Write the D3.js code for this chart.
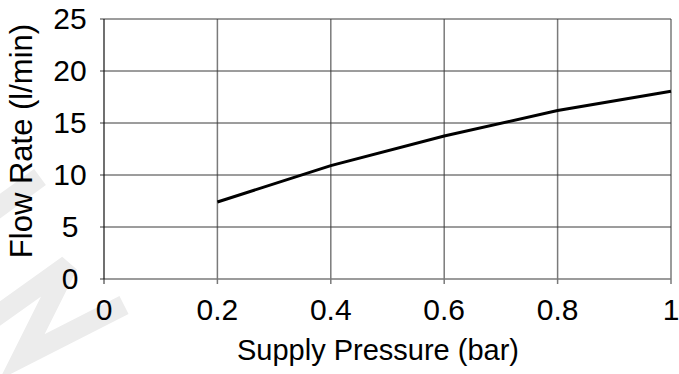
<!DOCTYPE html>
<html>
<head>
<meta charset="utf-8">
<script src="https://cdn.jsdelivr.net/npm/d3@7"></script>
<style>
html,body{margin:0;padding:0;background:#fff;}
svg{display:block;font-family:"Liberation Sans",Arial,sans-serif;}
</style>
</head>
<body>
<svg id="chart" width="679" height="374"></svg>
<script>
const pressure = [0.2, 0.4, 0.6, 0.8, 1.0];
const flowRate = [7.4, 10.9, 13.75, 16.2, 18.05];
const xTicks = [0, 0.2, 0.4, 0.6, 0.8, 1];
const yTicks = [0, 5, 10, 15, 20, 25];
const xTitle = "Supply Pressure (bar)";
const yTitle = "Flow Rate (l/min)";

const svg = d3.select("#chart");
const W = 679, H = 374;
const m = {left: 104, right: 8, top: 19, bottom: 95};

const x = d3.scaleLinear().domain([0, 1]).range([m.left, W - m.right]);
const y = d3.scaleLinear().domain([0, 25]).range([H - m.bottom, m.top]);

// watermark fragment
svg.append("path")
  .attr("d", "M-12,322 L68,265 L22,357 L124,305")
  .attr("fill", "none").attr("stroke", "#ececec").attr("stroke-width", 20)
  .attr("stroke-linejoin", "miter");
svg.append("path")
  .attr("d", "M-12,215 L40,177")
  .attr("fill", "none").attr("stroke", "#ececec").attr("stroke-width", 20);

// vertical gridlines
svg.append("g").selectAll("line").data(xTicks.filter(d => d > 0)).join("line")
  .attr("x1", d => x(d)).attr("x2", d => x(d))
  .attr("y1", y(25)).attr("y2", y(0) + 5)
  .attr("stroke", "#7a7a7a").attr("stroke-width", 1.5);

// horizontal gridlines
svg.append("g").selectAll("line").data(yTicks.filter(d => d > 0)).join("line")
  .attr("x1", x(0) - 4).attr("x2", x(1))
  .attr("y1", d => y(d)).attr("y2", d => y(d))
  .attr("stroke", "#3a3a3a").attr("stroke-width", 1);

// bottom axis line
svg.append("line")
  .attr("x1", x(0) - 4).attr("x2", x(1))
  .attr("y1", y(0)).attr("y2", y(0))
  .attr("stroke", "#7a7a7a").attr("stroke-width", 1.5);
// x tick at 0
svg.append("line")
  .attr("x1", x(0)).attr("x2", x(0))
  .attr("y1", y(0)).attr("y2", y(0) + 5)
  .attr("stroke", "#222").attr("stroke-width", 1);
// left axis line
svg.append("line")
  .attr("x1", x(0)).attr("x2", x(0))
  .attr("y1", y(25)).attr("y2", y(0))
  .attr("stroke", "#111").attr("stroke-width", 1.2);

// tick labels
svg.append("g").selectAll("text").data(yTicks).join("text")
  .attr("x", 70).attr("y", d => y(d)).attr("dy", "0.34em")
  .attr("text-anchor", "middle").attr("font-size", 30).attr("fill", "#000")
  .text(d => d);

svg.append("g").selectAll("text").data(xTicks).join("text")
  .attr("x", d => x(d)).attr("y", 320)
  .attr("text-anchor", "middle").attr("font-size", 30).attr("fill", "#000")
  .text(d => d3.format("")(d));

// data line
const line = d3.line().x(d => x(d[0])).y(d => y(d[1]));
svg.append("path")
  .datum(pressure.map((p, i) => [p, flowRate[i]]))
  .attr("d", line)
  .attr("fill", "none").attr("stroke", "#000").attr("stroke-width", 3);

// axis titles
svg.append("text")
  .attr("x", 378).attr("y", 360)
  .attr("text-anchor", "middle").attr("font-size", 29).attr("fill", "#000")
  .text(xTitle);

svg.append("text")
  .attr("transform", `translate(32,141) rotate(-90)`)
  .attr("text-anchor", "middle").attr("font-size", 31).attr("fill", "#000")
  .text(yTitle);
</script>
</body>
</html>
